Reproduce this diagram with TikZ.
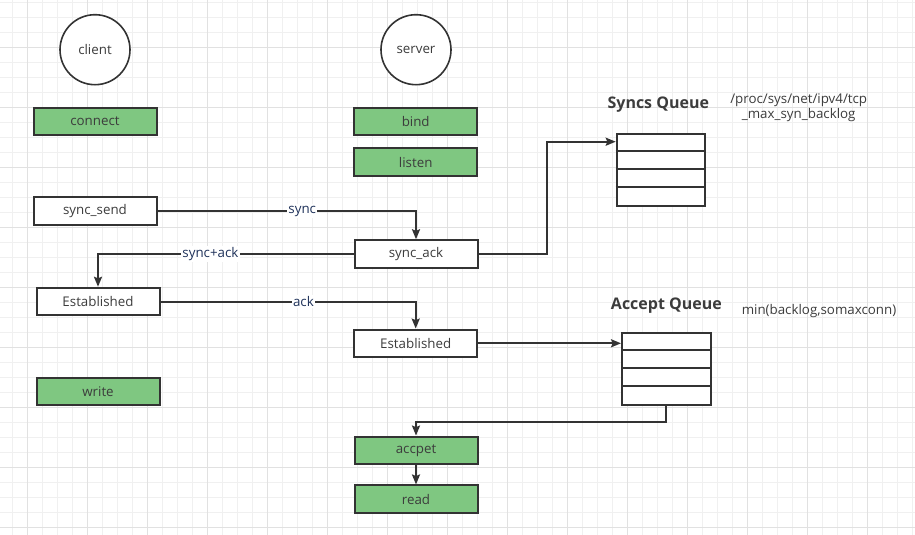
\documentclass[tikz,border=0pt]{standalone}
\usepackage{fontspec}
\setmainfont{Open Sans}
\usetikzlibrary{arrows.meta,calc}

\definecolor{boxgreen}{RGB}{127,199,129}
\definecolor{linegray}{RGB}{51,51,51}
\definecolor{textgray}{RGB}{60,60,60}
\definecolor{labelblue}{RGB}{31,50,90}
\definecolor{gridminor}{RGB}{240,240,240}
\definecolor{gridmajor}{RGB}{225,225,225}

\tikzset{every picture/.style={line width=0.75pt}}
\tikzset{
  stepbox/.style={draw=linegray, line width=1.5pt, fill=white, text=textgray,
    minimum width=92.25pt, minimum height=20.6pt, inner sep=0pt, font=\fontsize{10}{12}\selectfont},
  callbox/.style={stepbox, fill=boxgreen},
  rolecircle/.style={draw=linegray, line width=1.2pt, circle, fill=white, text=textgray,
    minimum size=52.5pt, inner sep=0pt, font=\fontsize{10}{12}\selectfont},
  queuebox/.style={draw=linegray, line width=1.5pt, fill=white, minimum width=66.4pt, minimum height=54pt, inner sep=0pt},
  flow/.style={draw=linegray, line width=1.5pt, -{Stealth[length=7.5pt,width=6pt,inset=1.2pt]}},
  flowlabel/.style={fill=white, text=labelblue, inner sep=1pt, font=\fontsize{10}{12}\selectfont},
  qtitle/.style={text=textgray, font=\bfseries\fontsize{12}{14}\selectfont},
  qnote/.style={text=textgray, align=center, font=\fontsize{10}{11.5}\selectfont}
}

\begin{document}
\begin{tikzpicture}[x=0.75pt,y=0.75pt,yscale=-1,xscale=1]
\useasboundingbox (0,0) rectangle (915,535);

% background grid
\foreach \i in {0,...,60} \draw[gridminor] (12.7+15*\i,0) -- (12.7+15*\i,535);
\foreach \j in {0,...,35} \draw[gridminor] (0,2.3+15*\j) -- (915,2.3+15*\j);
\foreach \i in {0,...,14} \draw[gridmajor] (27.7+60*\i,0) -- (27.7+60*\i,535);
\foreach \j in {0,...,8} \draw[gridmajor] (0,47.3+60*\j) -- (915,47.3+60*\j);

% client side
\node[rolecircle] (client) at (95,49.7) {client};
\node[callbox] (connect) at (95,121.5) {connect};
\node[stepbox] (syncsend) at (95,211) {sync\_send};
\node[stepbox] (estclient) at (98,301.5) {Established};
\node[callbox] (write) at (98,391.7) {write};

% server side
\node[rolecircle] (server) at (416,49.7) {server};
\node[callbox] (bind) at (415.7,121.5) {bind};
\node[callbox] (listen) at (415.7,162) {listen};
\node[stepbox] (syncack) at (416,254) {sync\_ack};
\node[stepbox] (estserver) at (415.7,343.3) {Established};
\node[callbox] (accpet) at (416,450.3) {accpet};
\node[callbox] (read) at (416,499.2) {read};

% queues
\node[queuebox] (syncq) at (661,170.2) {};
\foreach \k in {1,2,3} \draw[linegray, line width=1.5pt] ($(syncq.north west)+(0,18*\k)$) -- ($(syncq.north east)+(0,18*\k)$);
\coordinate (sq1) at ($(syncq.north west)+(0,8.5)$);
\node[qtitle] (syncqt) at (658.3,105) {Syncs Queue};
\node[qnote] (syncqn) at (798.7,107.5) {/proc/sys/net/ipv4/tcp\\\_max\_syn\_backlog};

\node[queuebox] (acceptq) at (666.3,369.3) {};
\foreach \k in {1,2,3} \draw[linegray, line width=1.5pt] ($(acceptq.north west)+(0,18*\k)$) -- ($(acceptq.north east)+(0,18*\k)$);
\node[qtitle] (acceptqt) at (666.4,306) {Accept Queue};
\node[qnote] (acceptqn) at (819,310.7) {min(backlog,somaxconn)};

% handshake
\draw[flow] (syncsend.east) -| node[flowlabel, pos=0.28] {sync} (syncack.north);
\draw[flow] (syncack.west) -| node[flowlabel, pos=0.28] {sync+ack} (estclient.north);
\draw[flow] (estclient.east) -| node[flowlabel, pos=0.28] {ack} (estserver.north);

% queues flow
\draw[flow] (syncack.east) -- ++(68,0) |- (sq1);
\draw[flow] (estserver.east) -- (estserver.east -| acceptq.west);
\draw[flow] (acceptq.south) -- ++(0,15.4) -| (accpet.north);
\draw[flow] (accpet) -- (read);

\end{tikzpicture}
\end{document}
